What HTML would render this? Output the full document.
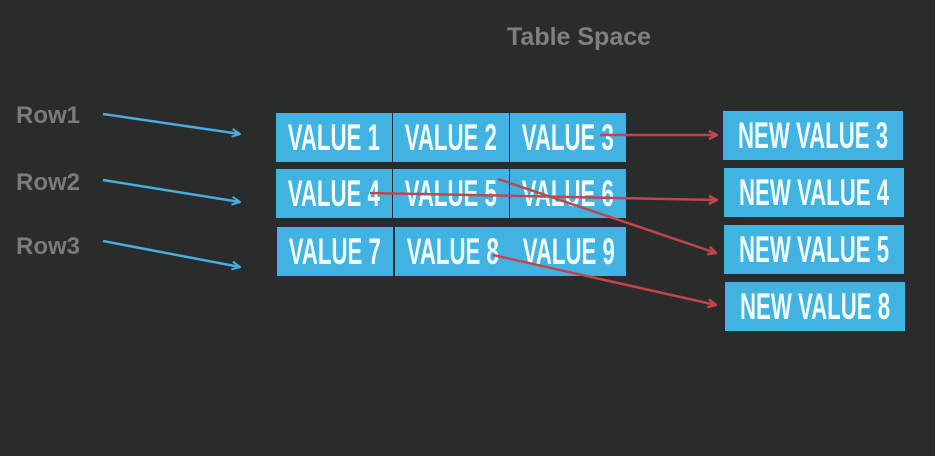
<!DOCTYPE html>
<html><head><meta charset="utf-8"><style>
body{margin:0;width:935px;height:456px;background:#2a2b2b;position:relative;overflow:hidden;font-family:"Liberation Sans",sans-serif}
.t{position:absolute;color:#7b7b7b;font-size:24px;line-height:1;font-weight:bold;white-space:nowrap}
.c{position:absolute;background:#40b3e2;color:#f2fbff;font-family:"Liberation Sans",sans-serif;font-weight:bold;font-size:37px;display:flex;align-items:center;justify-content:center;white-space:nowrap;overflow:visible}
.c span{display:inline-block;transform:scaleX(0.6);white-space:nowrap;line-height:1}
svg{position:absolute;left:0;top:0}
</style></head><body>
<div class="t" style="left:507px;top:25px;font-size:25px;color:#808080">Table Space</div>
<div class="t" style="left:16px;top:104px">Row1</div>
<div class="t" style="left:16px;top:171px">Row2</div>
<div class="t" style="left:16px;top:235px">Row3</div>

<div class="c" style="left:276px;top:113px;width:116px;height:49px"><span>VALUE 1</span></div>
<div class="c" style="left:393px;top:113px;width:116px;height:49px"><span>VALUE 2</span></div>
<div class="c" style="left:510px;top:113px;width:116px;height:49px"><span>VALUE 3</span></div>
<div class="c" style="left:276px;top:169px;width:116px;height:49px"><span>VALUE 4</span></div>
<div class="c" style="left:393px;top:169px;width:116px;height:49px"><span>VALUE 5</span></div>
<div class="c" style="left:510px;top:169px;width:116px;height:49px"><span>VALUE 6</span></div>
<div class="c" style="left:277px;top:227px;width:116px;height:49px"><span>VALUE 7</span></div>
<div class="c" style="left:395px;top:227px;width:231px;height:49px;justify-content:flex-start">
<div style="width:116px;display:flex;justify-content:center"><span>VALUE 8</span></div><div style="width:115px;display:flex;justify-content:center"><span>VALUE 9</span></div></div>

<div class="c" style="left:723px;top:111px;width:180px;height:49px"><span>NEW VALUE 3</span></div>
<div class="c" style="left:724px;top:168px;width:180px;height:49px"><span>NEW VALUE 4</span></div>
<div class="c" style="left:724px;top:225px;width:180px;height:49px"><span>NEW VALUE 5</span></div>
<div class="c" style="left:725px;top:282px;width:180px;height:49px"><span>NEW VALUE 8</span></div>

<svg width="935" height="456">
<defs>
<marker id="bh" markerWidth="10" markerHeight="10" refX="9" refY="5" orient="auto" markerUnits="userSpaceOnUse"><path d="M1,1 L9,5 L1,9" fill="none" stroke="#46aee0" stroke-width="2"/></marker>
<marker id="rh" markerWidth="10" markerHeight="10" refX="9" refY="5" orient="auto" markerUnits="userSpaceOnUse"><path d="M1,1 L9,5 L1,9" fill="none" stroke="#c1464b" stroke-width="2.5"/></marker>
</defs>
<g stroke="#46aee0" stroke-width="2.5" fill="none">
<line x1="103" y1="114" x2="240" y2="134" marker-end="url(#bh)"/>
<line x1="103" y1="180" x2="240" y2="202" marker-end="url(#bh)"/>
<line x1="103" y1="241" x2="240" y2="267" marker-end="url(#bh)"/>
</g>
<g stroke="#c1464b" stroke-width="2.5" fill="none">
<line x1="600" y1="135" x2="717" y2="135" marker-end="url(#rh)"/>
<line x1="370" y1="193" x2="717" y2="200" marker-end="url(#rh)"/>
<line x1="498" y1="179" x2="716" y2="253" marker-end="url(#rh)"/>
<line x1="493" y1="255" x2="716" y2="305" marker-end="url(#rh)"/>
</g>
</svg>
</body></html>
